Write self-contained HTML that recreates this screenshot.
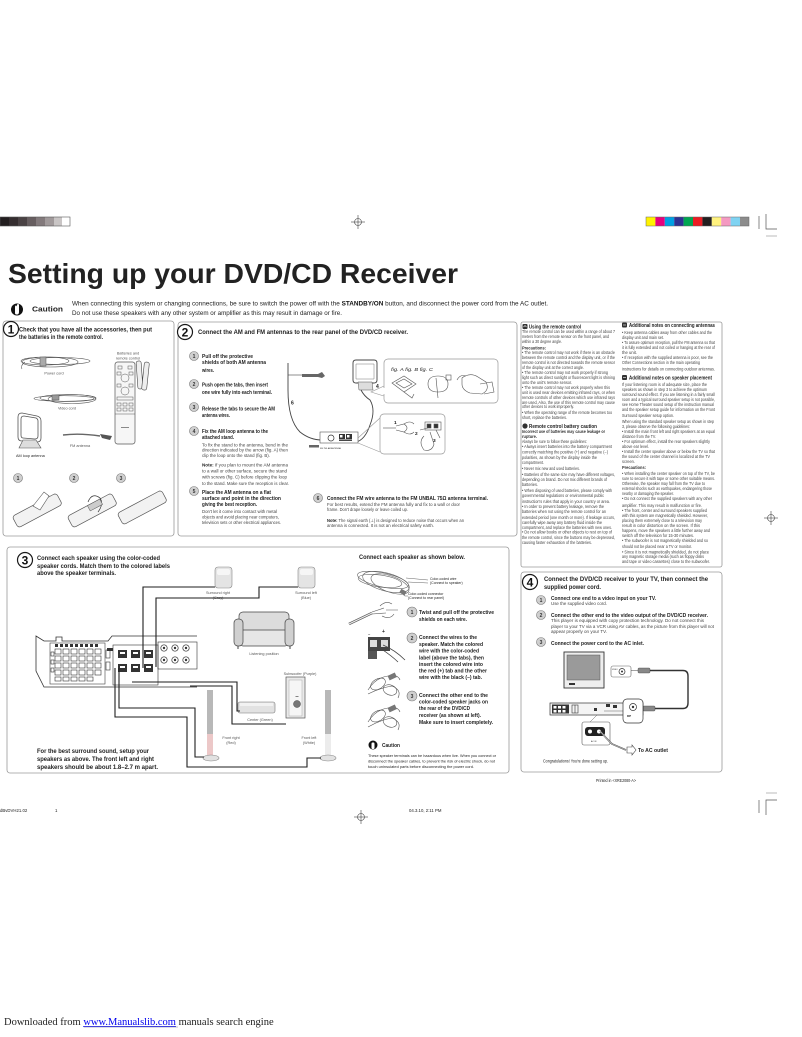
<!DOCTYPE html>
<html><head><meta charset="utf-8"><title>Setting up your DVD/CD Receiver</title>
<style>
html,body{margin:0;padding:0;background:#fff;}
svg{display:block}
text{font-family:"Liberation Sans",sans-serif;fill:#222}
.s{font-size:4.1px;fill:#444}
.sb{font-size:4.2px;font-weight:bold;fill:#333}
.h{font-size:5px;font-weight:bold;fill:#222}
.st{font-size:5.3px;font-weight:bold;fill:#222}
.lbl{font-size:3.8px;fill:#555;text-anchor:middle}
.num{font-size:12px;font-weight:bold;text-anchor:middle;fill:#111}
.sn{font-size:5px;font-weight:bold;text-anchor:middle;fill:#333}
.box{fill:none;stroke:#9a9a9a;stroke-width:0.8}
.w{fill:none;stroke:#1e1e1e;stroke-width:1.1}
.ln{fill:none;stroke:#555;stroke-width:0.6}
.ln2{fill:none;stroke:#444;stroke-width:0.9}
.big{fill:#fff;stroke:#1a1a1a;stroke-width:1.2}
.sc{fill:#cfcfcf;stroke:#777;stroke-width:0.6}
</style></head>
<body>
<svg width="802" height="1037" viewBox="0 0 802 1037" xmlns="http://www.w3.org/2000/svg">
<rect width="802" height="1037" fill="#fff"/>

<!-- registration bars -->
<g stroke="none">
<rect x="0" y="217" width="9" height="9" fill="#231f20"/>
<rect x="9" y="217" width="9" height="9" fill="#352e30"/>
<rect x="18" y="217" width="9" height="9" fill="#4a4244"/>
<rect x="27" y="217" width="9" height="9" fill="#675e60"/>
<rect x="36" y="217" width="9" height="9" fill="#837a7c"/>
<rect x="45" y="217" width="9" height="9" fill="#a19a9b"/>
<rect x="54" y="217" width="8" height="9" fill="#c9c5c5"/>
<rect x="62" y="217" width="8" height="9" fill="#fff"/>
</g>
<rect x="0" y="217" width="70" height="9" fill="none" stroke="#555" stroke-width="0.6"/>
<g stroke="none">
<rect x="646" y="217" width="9.4" height="9" fill="#fff200"/>
<rect x="655.4" y="217" width="9.4" height="9" fill="#e6007e"/>
<rect x="664.8" y="217" width="9.4" height="9" fill="#00a0e3"/>
<rect x="674.2" y="217" width="9.4" height="9" fill="#2e3192"/>
<rect x="683.6" y="217" width="9.4" height="9" fill="#00a651"/>
<rect x="693" y="217" width="9.4" height="9" fill="#ed1c24"/>
<rect x="702.4" y="217" width="9.4" height="9" fill="#231f20"/>
<rect x="711.8" y="217" width="9.4" height="9" fill="#fff27f"/>
<rect x="721.2" y="217" width="9.4" height="9" fill="#f49ac1"/>
<rect x="730.6" y="217" width="9.4" height="9" fill="#7fd3f2"/>
<rect x="740" y="217" width="9" height="9" fill="#8c8c8c"/>
</g>
<rect x="646" y="217" width="103" height="9" fill="none" stroke="#666" stroke-width="0.5"/>
<g stroke="#555" stroke-width="0.7" fill="none">
<line x1="759" y1="216" x2="759" y2="229"/>
<polyline points="766,214 766,229 777,229"/>
</g>
<line x1="766" y1="236" x2="777" y2="236" stroke="#aaa" stroke-width="0.8"/>
<g stroke="#444" stroke-width="0.6" fill="none">
<circle cx="358" cy="222" r="3.5"/><line x1="351" y1="222" x2="365" y2="222"/><line x1="358" y1="215" x2="358" y2="229"/>
</g>

<!-- title -->
<text x="8" y="283" font-size="28" font-weight="bold" textLength="450" lengthAdjust="spacingAndGlyphs" fill="#1a1a1a">Setting up your DVD/CD Receiver</text>

<!-- caution line -->
<circle cx="17" cy="309.5" r="6" fill="#111"/>
<path d="M15,313 L15,307 Q15,305.5 16,305.5 Q17,305.5 17,307 L17,305 Q17,304 18,304 Q19,304 19,305 L19,312 Q19,314.5 17,314.5 L16.5,314.5 Q15,314.5 15,313 Z" fill="#fff"/>
<text x="32" y="311.5" font-size="7.5" font-weight="bold" textLength="31" lengthAdjust="spacingAndGlyphs">Caution</text>
<text x="72" y="305.5" font-size="6.8" textLength="476" lengthAdjust="spacingAndGlyphs" fill="#333">When connecting this system or changing connections, be sure to switch the power off with the <tspan font-weight="bold" fill="#111">STANDBY/ON</tspan> button, and disconnect the power cord from the AC outlet.</text>
<text x="72" y="315" font-size="6.8" textLength="270" lengthAdjust="spacingAndGlyphs" fill="#333">Do not use these speakers with any other system or amplifier as this may result in damage or fire.</text>

<!-- ============ SECTION 1 ============ -->
<rect x="3" y="321" width="171" height="215" rx="3" class="box"/>
<circle cx="11" cy="329" r="7.5" class="big"/>
<text x="11" y="333.5" class="num">1</text>
<text x="19" y="331.5" font-size="6" font-weight="bold" textLength="133" lengthAdjust="spacingAndGlyphs">Check that you have all the accessories, then put</text>
<text x="19" y="339" font-size="6" font-weight="bold" textLength="84" lengthAdjust="spacingAndGlyphs">the batteries in the remote control.</text>

<!-- power cord -->
<g class="ln">
<ellipse cx="45" cy="361" rx="24" ry="4"/>
<ellipse cx="50" cy="362" rx="28" ry="5"/>
<ellipse cx="60" cy="361" rx="30" ry="3.5"/>
<path d="M25,362 Q20,366 22,369"/>
</g>
<rect x="40" y="357" width="6" height="9" fill="#aaa" stroke="#555" stroke-width="0.5"/>
<text x="54" y="374.5" class="lbl">Power cord</text>
<!-- video cord -->
<g class="ln">
<ellipse cx="68" cy="398" rx="28" ry="3.5"/>
<ellipse cx="72" cy="399" rx="24" ry="4.5"/>
<ellipse cx="64" cy="398.5" rx="30" ry="2.8"/>
</g>
<rect x="52" y="395" width="7" height="5" fill="#999" stroke="#555" stroke-width="0.5"/>
<text x="67" y="409.5" class="lbl">Video cord</text>
<!-- AM loop -->
<g fill="none" stroke="#555" stroke-width="0.8">
<path d="M18,417 Q18,413 22,413 L37,416 Q41,417 41,421 L41,438 Q41,442 37,442 L22,441 Q18,441 18,437 Z"/>
<path d="M21,419 Q21,416 24,416 L36,418 Q38,419 38,421 L38,436 Q38,439 35,439 L23,438 Q21,438 21,435 Z"/>
</g>
<polygon points="23,440 36,440 41,448 19,448" fill="#ddd" stroke="#555" stroke-width="0.6"/>
<text x="16" y="457" font-size="3.8" fill="#555">AM loop antenna</text>
<!-- FM antenna -->
<path d="M63,435 Q80,433 100,436" stroke="#666" stroke-width="1.4" fill="none"/>
<path d="M100,434 L112,436 L110,440 L102,438 Z" fill="#555"/>
<text x="80" y="447" class="lbl">FM antenna</text>
<!-- remote -->
<text x="128" y="354.5" class="lbl" fill="#333">Batteries and</text>
<text x="128" y="359.5" class="lbl" fill="#333">remote control</text>
<rect x="115" y="362" width="20" height="82" rx="2.5" fill="#f6f6f6" stroke="#555" stroke-width="0.7"/>
<g fill="none" stroke="#555" stroke-width="0.5">
<rect x="118" y="366" width="4" height="3"/><rect x="128" y="366" width="4" height="3"/>
<rect x="117" y="372" width="4" height="3"/><rect x="129" y="372" width="4" height="3"/>
<circle cx="125" cy="378" r="4"/>
<rect x="117" y="384" width="4" height="3"/><rect x="129" y="384" width="4" height="3"/>
<circle cx="125" cy="391" r="4"/>
<rect x="117" y="397" width="16" height="3"/>
<rect x="117" y="403" width="4" height="3"/><rect x="123" y="403" width="4" height="3"/><rect x="129" y="403" width="4" height="3"/>
<rect x="117" y="408" width="4" height="3"/><rect x="123" y="408" width="4" height="3"/><rect x="129" y="408" width="4" height="3"/>
<line x1="115" y1="414" x2="135" y2="414"/>
</g>
<rect x="121" y="427" width="8" height="1" fill="#888"/>
<rect x="137" y="361" width="5" height="28" rx="2" fill="#eee" stroke="#444" stroke-width="0.6" transform="rotate(-4 139 375)"/>
<rect x="143" y="362" width="5" height="28" rx="2" fill="#eee" stroke="#444" stroke-width="0.6" transform="rotate(6 145 376)"/>
<!-- steps 1-3 -->
<circle cx="18" cy="478" r="4.5" class="sc"/><text x="18" y="480" class="sn">1</text>
<circle cx="74" cy="478" r="4.5" class="sc"/><text x="74" y="480" class="sn">2</text>
<circle cx="121" cy="478" r="4.5" class="sc"/><text x="121" y="480" class="sn">3</text>
<g fill="#f2f2f2" stroke="#555" stroke-width="0.7">
<rect x="12" y="504" width="50" height="13" rx="3" transform="rotate(-28 37 510)"/>
<rect x="67" y="504" width="50" height="13" rx="3" transform="rotate(-28 92 510)"/>
<rect x="117" y="501" width="50" height="13" rx="3" transform="rotate(-28 142 507)"/>
</g>
<path d="M33,506 L44,492 L49,496 L40,510 Z" fill="#fff" stroke="#555" stroke-width="0.6"/>
<path d="M88,502 Q92,492 100,498 Q104,504 98,512" fill="none" stroke="#333" stroke-width="0.7"/>
<rect x="88" y="502" width="14" height="6" fill="#ccc" stroke="#555" stroke-width="0.5" transform="rotate(-28 95 505)"/>

<!-- ============ SECTION 2 ============ -->
<rect x="178" y="322" width="339" height="214" rx="3" class="box"/>
<circle cx="185" cy="332" r="7.5" class="big"/>
<text x="185" y="336.5" class="num">2</text>
<text x="198" y="334" font-size="6" font-weight="bold" textLength="210" lengthAdjust="spacingAndGlyphs">Connect the AM and FM antennas to the rear panel of the DVD/CD receiver.</text>

<circle cx="194" cy="356" r="4.5" class="sc"/><text x="194" y="358" class="sn">1</text>
<circle cx="194" cy="384" r="4.5" class="sc"/><text x="194" y="386" class="sn">2</text>
<circle cx="194" cy="407" r="4.5" class="sc"/><text x="194" y="409" class="sn">3</text>
<circle cx="194" cy="431" r="4.5" class="sc"/><text x="194" y="433" class="sn">4</text>
<circle cx="194" cy="491" r="4.5" class="sc"/><text x="194" y="493" class="sn">5</text>

<text x="202" y="358" class="st" textLength="51" lengthAdjust="spacingAndGlyphs">Pull off the protective</text>
<text x="202" y="364" class="st" textLength="64" lengthAdjust="spacingAndGlyphs">shields of both AM antenna</text>
<text x="202" y="372" class="st" textLength="12" lengthAdjust="spacingAndGlyphs">wires.</text>
<text x="202" y="386.5" class="st" textLength="66" lengthAdjust="spacingAndGlyphs">Push open the tabs, then insert</text>
<text x="202" y="394" class="st" textLength="70" lengthAdjust="spacingAndGlyphs">one wire fully into each terminal.</text>
<text x="202" y="410.5" class="st" textLength="73" lengthAdjust="spacingAndGlyphs">Release the tabs to secure the AM</text>
<text x="202" y="417" class="st" textLength="28" lengthAdjust="spacingAndGlyphs">antenna wires.</text>
<text x="202" y="433" class="st" textLength="66" lengthAdjust="spacingAndGlyphs">Fix the AM loop antenna to the</text>
<text x="202" y="439" class="st" textLength="32" lengthAdjust="spacingAndGlyphs">attached stand.</text>
<text x="202" y="446.5" class="s" textLength="86" lengthAdjust="spacingAndGlyphs">To fix the stand to the antenna, bend in the</text>
<text x="202" y="451.5" class="s" textLength="86" lengthAdjust="spacingAndGlyphs">direction indicated by the arrow (fig. A) then</text>
<text x="202" y="457" class="s" textLength="68" lengthAdjust="spacingAndGlyphs">clip the loop onto the stand (fig. B).</text>
<text x="202" y="466.5" class="s" textLength="86" lengthAdjust="spacingAndGlyphs"><tspan font-weight="bold" fill="#222">Note:</tspan> If you plan to mount the AM antenna</text>
<text x="202" y="472.5" class="s" textLength="85" lengthAdjust="spacingAndGlyphs">to a wall or other surface, secure the stand</text>
<text x="202" y="478.5" class="s" textLength="85" lengthAdjust="spacingAndGlyphs">with screws (fig. C) before clipping the loop</text>
<text x="202" y="485" class="s" textLength="87" lengthAdjust="spacingAndGlyphs">to the stand. Make sure the reception is clear.</text>
<text x="202" y="494" class="st" textLength="69" lengthAdjust="spacingAndGlyphs">Place the AM antenna on a flat</text>
<text x="202" y="500" class="st" textLength="79" lengthAdjust="spacingAndGlyphs">surface and point in the direction</text>
<text x="202" y="506" class="st" textLength="55" lengthAdjust="spacingAndGlyphs">giving the best reception.</text>
<text x="202" y="513" class="s" textLength="75" lengthAdjust="spacingAndGlyphs">Don't let it come into contact with metal</text>
<text x="202" y="518.5" class="s" textLength="77" lengthAdjust="spacingAndGlyphs">objects and avoid placing near computers,</text>
<text x="202" y="524" class="s" textLength="79" lengthAdjust="spacingAndGlyphs">television sets or other electrical appliances.</text>

<circle cx="318" cy="498" r="4.5" class="sc"/><text x="318" y="500" class="sn">6</text>
<text x="327" y="500" class="st" textLength="161" lengthAdjust="spacingAndGlyphs">Connect the FM wire antenna to the FM UNBAL 75Ω antenna terminal.</text>
<text x="327" y="506" class="s" textLength="133" lengthAdjust="spacingAndGlyphs">For best results, extend the FM antenna fully and fix to a wall or door</text>
<text x="327" y="511" class="s" textLength="81" lengthAdjust="spacingAndGlyphs">frame. Don't drape loosely or leave coiled up.</text>
<text x="327" y="522" class="s" textLength="137" lengthAdjust="spacingAndGlyphs"><tspan font-weight="bold" fill="#222">Note:</tspan> The signal earth (⊥) is designed to reduce noise that occurs when an</text>
<text x="327" y="527" class="s" textLength="107" lengthAdjust="spacingAndGlyphs">antenna is connected. It is not an electrical safety earth.</text>

<!-- section 2 diagram -->
<path d="M288,363 L288,390 Q288,420 300,432 Q310,440 322,440" class="ln2"/>
<line x1="288" y1="375" x2="302" y2="375" stroke="#444" stroke-width="0.6"/>
<path d="M302,374 L318,374 L322,372 L325,376 L322,378 L318,377 L302,377 Z" fill="#666"/>
<text x="291" y="404.5" font-size="5" font-weight="bold" fill="#333">6</text>
<path d="M353,363 Q353,360 356,360 L374,360 Q377,360 377,363 L377,380 Q377,383 374,383 L356,383 Q353,383 353,380 Z" fill="none" stroke="#444" stroke-width="0.9"/>
<path d="M356,364 L374,364 L374,379 L356,379 Z" fill="none" stroke="#777" stroke-width="0.5"/>
<polygon points="358,382 372,382 373,390 359,390" fill="#ddd" stroke="#555" stroke-width="0.5"/>
<path d="M361,390 Q364,396 370,400 Q376,410 370,425 Q365,440 356,442" class="ln2"/>
<text x="376" y="388" font-size="5" font-weight="bold" fill="#333">4</text>
<path d="M384,386 L371,392 L384,396" fill="none" stroke="#999" stroke-width="0.6"/>
<rect x="384" y="359" width="114" height="44" rx="4" fill="#fff" stroke="#999" stroke-width="0.7"/>
<line x1="384" y1="388" x2="384" y2="394" stroke="#fff" stroke-width="1"/>
<text x="391" y="371" font-size="4.6" font-style="italic" fill="#444" textLength="42" lengthAdjust="spacingAndGlyphs">fig. A fig. B fig. C</text>
<g fill="none" stroke="#555" stroke-width="0.6">
<path d="M392,383 L404,376 L416,384 L404,392 Z"/><path d="M396,383 L404,379 L412,384 L404,388 Z"/>
<path d="M404,392 L412,398 L414,394"/>
<path d="M428,384 Q428,376 438,376 Q448,376 448,384 Q448,392 438,392 Q428,392 428,384 Z"/>
<line x1="436" y1="378" x2="438" y2="398"/><rect x="446" y="375" width="5" height="5"/>
<path d="M462,378 Q470,372 478,377 L486,382 Q490,390 482,394 L470,393 Q462,390 462,384 Z"/>
<path d="M480,384 L492,382 L494,392 L484,394"/><path d="M457,380 Q460,374 466,376"/>
</g>
<!-- terminal -->
<rect x="320" y="432" width="38" height="11" fill="#fff" stroke="#555" stroke-width="0.6"/>
<circle cx="331" cy="438" r="3" fill="#fff" stroke="#333" stroke-width="0.7"/>
<rect x="339" y="434" width="6" height="5" fill="#333"/><rect x="346" y="434" width="6" height="5" fill="#333"/>
<rect x="340" y="435" width="2.5" height="2.5" fill="#fff"/><rect x="347" y="435" width="2.5" height="2.5" fill="#fff"/>
<rect x="339" y="439.5" width="13" height="1.4" fill="#333"/>
<rect x="309" y="445" width="10" height="2.5" fill="#666"/>
<text x="320" y="449" font-size="2" fill="#666">FM 75Ω  AM ANTENNA</text>
<path d="M358,438 L380,418 M358,443 L380,452" fill="none" stroke="#999" stroke-width="0.6"/>
<rect x="380" y="414" width="65" height="40" rx="4" fill="#fff" stroke="#999" stroke-width="0.7"/>
<text x="394" y="424" font-size="4.8" font-weight="bold" fill="#333">1</text>
<text x="415" y="435" font-size="4.8" font-weight="bold" fill="#333">2</text>
<text x="433" y="442" font-size="4.8" font-weight="bold" fill="#333">3</text>
<g fill="none" stroke="#555" stroke-width="0.6">
<line x1="383" y1="428" x2="396" y2="428"/><path d="M396,426 L404,424 Q410,428 404,432 L396,430"/>
<path d="M404,424 Q410,420 414,424 M404,432 Q410,436 414,432"/>
<rect x="425" y="422" width="16" height="8"/>
<rect x="427" y="424" width="4" height="4" fill="#333"/><rect x="434" y="424" width="4" height="4" fill="#333"/>
<path d="M420,430 L428,428 M424,436 Q418,442 424,450 Q432,452 434,444 L430,432"/>
<path d="M436,430 L440,438"/>
</g>

<!-- ============ RIGHT TEXT COLUMN ============ -->
<rect x="521" y="322" width="201" height="245" rx="2" class="box"/>
<rect x="522.5" y="324" width="5" height="5" rx="1" fill="#333"/><path d="M523.5,327 L525,325.5 L526.5,327" stroke="#fff" stroke-width="0.6" fill="none"/>
<text x="529" y="328.5" class="h" textLength="52" lengthAdjust="spacingAndGlyphs">Using the remote control</text>
<text x="522" y="333" class="s" textLength="93" lengthAdjust="spacingAndGlyphs">The remote control can be used within a range of about 7</text>
<text x="522" y="338" class="s" textLength="87" lengthAdjust="spacingAndGlyphs">meters from the remote sensor on the front panel, and</text>
<text x="522" y="343" class="s" textLength="40" lengthAdjust="spacingAndGlyphs">within a 30 degree angle.</text>
<text x="522" y="349.5" class="sb" textLength="24" lengthAdjust="spacingAndGlyphs">Precautions:</text>
<text x="522" y="354" class="s" textLength="93" lengthAdjust="spacingAndGlyphs">• The remote control may not work if there is an obstacle</text>
<text x="522" y="359" class="s" textLength="93" lengthAdjust="spacingAndGlyphs">between the remote control and the display unit, or if the</text>
<text x="522" y="364" class="s" textLength="93" lengthAdjust="spacingAndGlyphs">remote control is not directed towards the remote sensor</text>
<text x="522" y="369" class="s" textLength="62" lengthAdjust="spacingAndGlyphs">of the display unit at the correct angle.</text>
<text x="522" y="374" class="s" textLength="86" lengthAdjust="spacingAndGlyphs">• The remote control may not work properly if strong</text>
<text x="522" y="379" class="s" textLength="93" lengthAdjust="spacingAndGlyphs">light such as direct sunlight or fluorescent light is shining</text>
<text x="522" y="384" class="s" textLength="50" lengthAdjust="spacingAndGlyphs">onto the unit's remote sensor.</text>
<text x="522" y="389" class="s" textLength="88" lengthAdjust="spacingAndGlyphs">• The remote control may not work properly when this</text>
<text x="522" y="394" class="s" textLength="93" lengthAdjust="spacingAndGlyphs">unit is used near devices emitting infrared rays, or when</text>
<text x="522" y="399" class="s" textLength="93" lengthAdjust="spacingAndGlyphs">remote controls of other devices which use infrared rays</text>
<text x="522" y="404" class="s" textLength="93" lengthAdjust="spacingAndGlyphs">are used. Also, the use of this remote control may cause</text>
<text x="522" y="408" class="s" textLength="52" lengthAdjust="spacingAndGlyphs">other devices to work improperly.</text>
<text x="522" y="414" class="s" textLength="90" lengthAdjust="spacingAndGlyphs">• When the operating range of the remote becomes too</text>
<text x="522" y="419" class="s" textLength="45" lengthAdjust="spacingAndGlyphs">short, replace the batteries.</text>
<circle cx="525" cy="426" r="2.6" fill="#333"/><text x="525" y="427.5" font-size="3.6" font-weight="bold" fill="#fff" text-anchor="middle">!</text>
<text x="529" y="428" class="h" textLength="68" lengthAdjust="spacingAndGlyphs">Remote control battery caution</text>
<text x="522" y="433" class="sb" textLength="83" lengthAdjust="spacingAndGlyphs">Incorrect use of batteries may cause leakage or</text>
<text x="522" y="438" class="sb" textLength="15" lengthAdjust="spacingAndGlyphs">rupture.</text>
<text x="522" y="443" class="s" textLength="65" lengthAdjust="spacingAndGlyphs">Always be sure to follow these guidelines:</text>
<text x="522" y="448" class="s" textLength="90" lengthAdjust="spacingAndGlyphs">• Always insert batteries into the battery compartment</text>
<text x="522" y="453.5" class="s" textLength="86" lengthAdjust="spacingAndGlyphs">correctly matching the positive (+) and negative (−)</text>
<text x="522" y="459" class="s" textLength="75" lengthAdjust="spacingAndGlyphs">polarities, as shown by the display inside the</text>
<text x="522" y="464" class="s" textLength="22" lengthAdjust="spacingAndGlyphs">compartment.</text>
<text x="522" y="470" class="s" textLength="58" lengthAdjust="spacingAndGlyphs">• Never mix new and used batteries.</text>
<text x="522" y="476" class="s" textLength="93" lengthAdjust="spacingAndGlyphs">• Batteries of the same size may have different voltages,</text>
<text x="522" y="481" class="s" textLength="85" lengthAdjust="spacingAndGlyphs">depending on brand. Do not mix different brands of</text>
<text x="522" y="486" class="s" textLength="16" lengthAdjust="spacingAndGlyphs">batteries.</text>
<text x="522" y="492" class="s" textLength="90" lengthAdjust="spacingAndGlyphs">• When disposing of used batteries, please comply with</text>
<text x="522" y="497" class="s" textLength="82" lengthAdjust="spacingAndGlyphs">governmental regulations or environmental public</text>
<text x="522" y="503" class="s" textLength="88" lengthAdjust="spacingAndGlyphs">instruction's rules that apply in your country or area.</text>
<text x="522" y="508" class="s" textLength="82" lengthAdjust="spacingAndGlyphs">• In order to prevent battery leakage, remove the</text>
<text x="522" y="513" class="s" textLength="84" lengthAdjust="spacingAndGlyphs">batteries when not using the remote control for an</text>
<text x="522" y="519" class="s" textLength="93" lengthAdjust="spacingAndGlyphs">extended period (one month or more). If leakage occurs,</text>
<text x="522" y="524" class="s" textLength="80" lengthAdjust="spacingAndGlyphs">carefully wipe away any battery fluid inside the</text>
<text x="522" y="529" class="s" textLength="90" lengthAdjust="spacingAndGlyphs">compartment, and replace the batteries with new ones.</text>
<text x="522" y="533.5" class="s" textLength="90" lengthAdjust="spacingAndGlyphs">• Do not allow books or other objects to rest on top of</text>
<text x="522" y="539" class="s" textLength="93" lengthAdjust="spacingAndGlyphs">the remote control, since the buttons may be depressed,</text>
<text x="522" y="544" class="s" textLength="70" lengthAdjust="spacingAndGlyphs">causing faster exhaustion of the batteries.</text>

<rect x="622" y="322.5" width="5" height="5" rx="1" fill="#333"/><path d="M623,325 L626,325" stroke="#fff" stroke-width="0.6"/>
<text x="629" y="327" class="h" textLength="86" lengthAdjust="spacingAndGlyphs">Additional notes on connecting antennas</text>
<text x="622" y="334" class="s" textLength="90" lengthAdjust="spacingAndGlyphs">• Keep antenna cables away from other cables and the</text>
<text x="622" y="339" class="s" textLength="42" lengthAdjust="spacingAndGlyphs">display unit and main set.</text>
<text x="622" y="344" class="s" textLength="93" lengthAdjust="spacingAndGlyphs">• To assure optimum reception, pull the FM antenna so that</text>
<text x="622" y="349" class="s" textLength="93" lengthAdjust="spacingAndGlyphs">it is fully extended and not coiled or hanging at the rear of</text>
<text x="622" y="354" class="s" textLength="15" lengthAdjust="spacingAndGlyphs">the unit.</text>
<text x="622" y="359" class="s" textLength="91" lengthAdjust="spacingAndGlyphs">• If reception with the supplied antenna is poor, see the</text>
<text x="622" y="364" class="s" textLength="78" lengthAdjust="spacingAndGlyphs">Other Connections section in the main operating</text>
<text x="622" y="370.5" class="s" textLength="93" lengthAdjust="spacingAndGlyphs">instructions for details on connecting outdoor antennas.</text>
<rect x="622" y="375" width="5" height="5" rx="1" fill="#333"/><path d="M623,377.5 L626,377.5" stroke="#fff" stroke-width="0.6"/>
<text x="629" y="379.5" class="h" textLength="83" lengthAdjust="spacingAndGlyphs">Additional notes on speaker placement</text>
<text x="622" y="386" class="s" textLength="85" lengthAdjust="spacingAndGlyphs">If your listening room is of adequate size, place the</text>
<text x="622" y="391" class="s" textLength="85" lengthAdjust="spacingAndGlyphs">speakers as shown in step 3 to achieve the optimum</text>
<text x="622" y="396" class="s" textLength="93" lengthAdjust="spacingAndGlyphs">surround sound effect. If you are listening in a fairly small</text>
<text x="622" y="401" class="s" textLength="93" lengthAdjust="spacingAndGlyphs">room and a typical surround speaker setup is not possible,</text>
<text x="622" y="406" class="s" textLength="92" lengthAdjust="spacingAndGlyphs">see Home Theater sound setup of the instruction manual</text>
<text x="622" y="411" class="s" textLength="93" lengthAdjust="spacingAndGlyphs">and the speaker setup guide for information on the Front</text>
<text x="622" y="417" class="s" textLength="52" lengthAdjust="spacingAndGlyphs">Surround speaker setup option.</text>
<text x="622" y="423" class="s" textLength="92" lengthAdjust="spacingAndGlyphs">When using the standard speaker setup as shown in step</text>
<text x="622" y="428" class="s" textLength="68" lengthAdjust="spacingAndGlyphs">3, please observe the following guidelines:</text>
<text x="622" y="433" class="s" textLength="93" lengthAdjust="spacingAndGlyphs">• Install the main front left and right speakers at an equal</text>
<text x="622" y="438" class="s" textLength="34" lengthAdjust="spacingAndGlyphs">distance from the TV.</text>
<text x="622" y="443" class="s" textLength="88" lengthAdjust="spacingAndGlyphs">• For optimum effect, install the rear speakers slightly</text>
<text x="622" y="448" class="s" textLength="27" lengthAdjust="spacingAndGlyphs">above ear level.</text>
<text x="622" y="453" class="s" textLength="93" lengthAdjust="spacingAndGlyphs">• Install the center speaker above or below the TV so that</text>
<text x="622" y="458" class="s" textLength="88" lengthAdjust="spacingAndGlyphs">the sound of the center channel is localized at the TV</text>
<text x="622" y="463" class="s" textLength="13" lengthAdjust="spacingAndGlyphs">screen.</text>
<text x="622" y="469" class="sb" textLength="24" lengthAdjust="spacingAndGlyphs">Precautions:</text>
<text x="622" y="475" class="s" textLength="93" lengthAdjust="spacingAndGlyphs">• When installing the center speaker on top of the TV, be</text>
<text x="622" y="480" class="s" textLength="93" lengthAdjust="spacingAndGlyphs">sure to secure it with tape or some other suitable means.</text>
<text x="622" y="485" class="s" textLength="83" lengthAdjust="spacingAndGlyphs">Otherwise, the speaker may fall from the TV due to</text>
<text x="622" y="490" class="s" textLength="90" lengthAdjust="spacingAndGlyphs">external shocks such as earthquakes, endangering those</text>
<text x="622" y="495" class="s" textLength="52" lengthAdjust="spacingAndGlyphs">nearby or damaging the speaker.</text>
<text x="622" y="500" class="s" textLength="90" lengthAdjust="spacingAndGlyphs">• Do not connect the supplied speakers with any other</text>
<text x="622" y="507" class="s" textLength="80" lengthAdjust="spacingAndGlyphs">amplifier. This may result in malfunction or fire.</text>
<text x="622" y="512" class="s" textLength="85" lengthAdjust="spacingAndGlyphs">• The front, center and surround speakers supplied</text>
<text x="622" y="517" class="s" textLength="86" lengthAdjust="spacingAndGlyphs">with this system are magnetically shielded. However,</text>
<text x="622" y="522" class="s" textLength="80" lengthAdjust="spacingAndGlyphs">placing them extremely close to a television may</text>
<text x="622" y="527" class="s" textLength="78" lengthAdjust="spacingAndGlyphs">result in color distortion on the screen. If this</text>
<text x="622" y="532" class="s" textLength="88" lengthAdjust="spacingAndGlyphs">happens, move the speakers a little further away and</text>
<text x="622" y="537" class="s" textLength="72" lengthAdjust="spacingAndGlyphs">switch off the television for 15-30 minutes.</text>
<text x="622" y="542" class="s" textLength="86" lengthAdjust="spacingAndGlyphs">• The subwoofer is not magnetically shielded and so</text>
<text x="622" y="548" class="s" textLength="70" lengthAdjust="spacingAndGlyphs">should not be placed near a TV or monitor.</text>
<text x="622" y="553.5" class="s" textLength="87" lengthAdjust="spacingAndGlyphs">• Since it is not magnetically shielded, do not place</text>
<text x="622" y="558" class="s" textLength="82" lengthAdjust="spacingAndGlyphs">any magnetic storage media (such as floppy disks</text>
<text x="622" y="563" class="s" textLength="88" lengthAdjust="spacingAndGlyphs">and tape or video cassettes) close to the subwoofer.</text>

<g stroke="#444" stroke-width="0.6" fill="none">
<circle cx="771" cy="518" r="3.5"/><line x1="764" y1="518" x2="778" y2="518"/><line x1="771" y1="511" x2="771" y2="525"/>
</g>

<!-- ============ SECTION 3 ============ -->
<rect x="7" y="547" width="502" height="226" rx="3" class="box"/>
<circle cx="25" cy="560" r="7.5" class="big"/>
<text x="25" y="564.5" class="num">3</text>
<text x="37" y="560" font-size="6.2" font-weight="bold" textLength="123" lengthAdjust="spacingAndGlyphs">Connect each speaker using the color-coded</text>
<text x="37" y="568" font-size="6.2" font-weight="bold" textLength="133" lengthAdjust="spacingAndGlyphs">speaker cords. Match them to the colored labels</text>
<text x="37" y="575" font-size="6.2" font-weight="bold" textLength="79" lengthAdjust="spacingAndGlyphs">above the speaker terminals.</text>
<text x="37" y="753" font-size="6.4" font-weight="bold" textLength="112" lengthAdjust="spacingAndGlyphs">For the best surround sound, setup your</text>
<text x="37" y="761" font-size="6.4" font-weight="bold" textLength="117" lengthAdjust="spacingAndGlyphs">speakers as above. The front left and right</text>
<text x="37" y="769" font-size="6.4" font-weight="bold" textLength="121" lengthAdjust="spacingAndGlyphs">speakers should be about 1.8–2.7 m apart.</text>

<!-- receiver rear -->
<path d="M197,636 L112,636 L108,641 L62,641 L62,637 L56,637 L56,641 L44,641 L36,636 L36,671 L44,687 L197,687" fill="#fff" stroke="#333" stroke-width="0.8"/>
<rect x="50" y="643" width="55" height="41" fill="none" stroke="#444" stroke-width="0.6"/>
<g fill="#333">
<rect x="55" y="644" width="3" height="3"/><rect x="60" y="644" width="3" height="3"/><rect x="65" y="644" width="3" height="3"/><rect x="70" y="644" width="3" height="3"/><rect x="75" y="644" width="3" height="3"/><rect x="80" y="644" width="3" height="3"/><rect x="85" y="644" width="3" height="3"/><rect x="90" y="644" width="3" height="3"/><rect x="95" y="644" width="3" height="3"/>
</g>
<g fill="none" stroke="#333" stroke-width="0.6">
<rect x="55" y="649" width="6" height="5"/><rect x="63" y="649" width="6" height="5"/><rect x="71" y="649" width="6" height="5"/><rect x="79" y="649" width="6" height="5"/><rect x="87" y="649" width="6" height="5"/><rect x="95" y="649" width="6" height="5"/>
<rect x="55" y="656" width="6" height="5"/><rect x="63" y="656" width="6" height="5"/><rect x="71" y="656" width="6" height="5"/><rect x="79" y="656" width="6" height="5"/><rect x="87" y="656" width="6" height="5"/><rect x="95" y="656" width="6" height="5"/>
<rect x="55" y="663" width="6" height="5"/><rect x="63" y="663" width="6" height="5"/><rect x="71" y="663" width="6" height="5"/><rect x="79" y="663" width="6" height="5"/><rect x="87" y="663" width="6" height="5"/><rect x="95" y="663" width="6" height="5"/>
<rect x="55" y="670" width="6" height="5"/><rect x="63" y="670" width="6" height="5"/><rect x="71" y="670" width="6" height="5"/><rect x="79" y="670" width="6" height="5"/><rect x="87" y="670" width="6" height="5"/><rect x="95" y="670" width="6" height="5"/>
<rect x="55" y="677" width="6" height="4"/><rect x="63" y="677" width="6" height="4"/><rect x="71" y="677" width="6" height="4"/><rect x="79" y="677" width="6" height="4"/><rect x="87" y="677" width="6" height="4"/>
<rect x="51" y="652" width="3" height="4"/><rect x="51" y="660" width="3" height="4"/><rect x="51" y="668" width="3" height="4"/>
<rect x="106" y="650" width="4" height="8"/><rect x="106" y="662" width="4" height="8"/>
<rect x="113" y="645" width="45" height="40"/>
<rect x="158" y="642" width="39" height="27"/>
</g>
<rect x="107" y="648" width="6" height="3" fill="#333"/>
<g fill="#333">
<rect x="118" y="650" width="9" height="8"/><rect x="131" y="650" width="9" height="8"/><rect x="144" y="650" width="9" height="8"/>
<rect x="118" y="664" width="9" height="8"/><rect x="131" y="664" width="9" height="8"/><rect x="144" y="664" width="9" height="8"/>
</g>
<g fill="#fff">
<rect x="120" y="652" width="5" height="2"/><rect x="133" y="652" width="5" height="2"/><rect x="146" y="652" width="5" height="2"/>
<rect x="120" y="666" width="5" height="2"/><rect x="133" y="666" width="5" height="2"/><rect x="146" y="666" width="5" height="2"/>
</g>
<g fill="#fff" stroke="#333" stroke-width="0.7">
<circle cx="164" cy="648" r="3.2"/><circle cx="175" cy="648" r="3.2"/><circle cx="186" cy="648" r="3.2"/>
<circle cx="164" cy="660" r="3.2"/><circle cx="175" cy="660" r="3.2"/><circle cx="186" cy="660" r="3.2"/>
</g>
<g fill="#333"><circle cx="164" cy="648" r="1.2"/><circle cx="175" cy="648" r="1.2"/><circle cx="186" cy="648" r="1.2"/><circle cx="164" cy="660" r="1.2"/><circle cx="175" cy="660" r="1.2"/><circle cx="186" cy="660" r="1.2"/></g>

<!-- speakers -->
<rect x="215" y="567" width="17" height="21" rx="3" fill="#e4e4e4" stroke="#888" stroke-width="0.6"/>
<rect x="217" y="569" width="13" height="6" rx="2" fill="#f6f6f6"/>
<text x="218" y="594" class="lbl">Surround right</text><text x="218" y="599" class="lbl">(Grey)</text>
<rect x="298" y="567" width="17" height="21" rx="3" fill="#e4e4e4" stroke="#888" stroke-width="0.6"/>
<rect x="300" y="569" width="13" height="6" rx="2" fill="#f6f6f6"/>
<text x="306" y="594" class="lbl">Surround left</text><text x="306" y="599" class="lbl">(Blue)</text>
<!-- sofa -->
<rect x="239" y="612" width="50" height="22" rx="4" fill="#dcdcdc" stroke="#444" stroke-width="0.7"/>
<rect x="241" y="630" width="46" height="16" rx="2" fill="#e6e6e6" stroke="#444" stroke-width="0.7"/>
<rect x="234" y="619" width="9" height="27" rx="4" fill="#d0d0d0" stroke="#444" stroke-width="0.7"/>
<rect x="285" y="619" width="9" height="27" rx="4" fill="#d0d0d0" stroke="#444" stroke-width="0.7"/>
<line x1="238" y1="646" x2="238" y2="649" stroke="#444" stroke-width="1"/><line x1="290" y1="646" x2="290" y2="649" stroke="#444" stroke-width="1"/>
<text x="264" y="655" class="lbl">Listening position</text>
<!-- subwoofer -->
<text x="300" y="675" class="lbl">Subwoofer (Purple)</text>
<rect x="286" y="677" width="19" height="41" fill="#eaeaea" stroke="#555" stroke-width="0.7"/>
<rect x="289" y="680" width="13" height="36" fill="#f6f6f6" stroke="#999" stroke-width="0.4"/>
<circle cx="297" cy="704" r="3.5" fill="#777" stroke="#444" stroke-width="0.5"/>
<rect x="295.5" y="696" width="3" height="0.8" fill="#666"/>
<!-- center -->
<rect x="238" y="702" width="37" height="11" rx="2" fill="#e2e2e2" stroke="#777" stroke-width="0.6"/>
<rect x="240" y="703" width="33" height="3" fill="#f2f2f2"/>
<text x="260" y="721" class="lbl">Center (Green)</text>
<!-- fronts -->
<rect x="207" y="690" width="6" height="44" fill="#b8b8b8"/>
<rect x="207" y="734" width="6" height="22" fill="#ecc8c8"/>
<ellipse cx="211" cy="758" rx="8" ry="3" fill="#e2e2e2" stroke="#888" stroke-width="0.6"/>
<text x="231" y="739" class="lbl">Front right</text><text x="231" y="744" class="lbl">(Red)</text>
<rect x="325" y="690" width="6" height="44" fill="#b8b8b8"/>
<rect x="325" y="734" width="6" height="22" fill="#ececec"/>
<ellipse cx="328" cy="758" rx="8" ry="3" fill="#e2e2e2" stroke="#888" stroke-width="0.6"/>
<text x="309" y="739" class="lbl">Front left</text><text x="309" y="744" class="lbl">(White)</text>
<!-- wires -->
<polyline class="w" points="143,668 143,587 215,587"/>
<polyline class="w" points="156,667 156,598 259,598 259,587 298,587"/>
<polyline class="w" points="132,682 237,682 237,711 240,711"/>
<polyline class="w" points="190,686 232,686 232,724 286,724"/>
<polyline class="w" points="119,668 119,708 195,708 195,757 204,757"/>
<polyline class="w" points="115,668 115,717 187,717 187,767 307,767 307,758 321,758"/>

<!-- right side of section 3 -->
<text x="359" y="559" font-size="6.2" font-weight="bold" textLength="106" lengthAdjust="spacingAndGlyphs">Connect each speaker as shown below.</text>
<g fill="none" stroke="#666" stroke-width="0.6">
<ellipse cx="383" cy="580" rx="26" ry="7" transform="rotate(12 383 580)"/>
<ellipse cx="386" cy="582" rx="24" ry="9" transform="rotate(15 386 582)"/>
<ellipse cx="380" cy="581" rx="22" ry="6" transform="rotate(8 380 581)"/>
<ellipse cx="390" cy="584" rx="20" ry="8" transform="rotate(20 390 584)"/>
<path d="M406,578 L428,580 M408,582 L428,583"/>
<path d="M400,592 L405,596 L408,596"/>
</g>
<rect x="400" y="590" width="6" height="4" fill="#777" transform="rotate(30 403 592)"/>
<text x="430" y="580" font-size="3.5" fill="#444">Color-coded wire</text>
<text x="430" y="584" font-size="3.5" fill="#444">(Connect to speaker)</text>
<text x="408" y="595" font-size="3.5" fill="#444">Color-coded connector</text>
<text x="408" y="599" font-size="3.5" fill="#444">(Connect to rear panel)</text>
<!-- step images -->
<path d="M349,624 L372,613" stroke="#555" stroke-width="2.4"/>
<path d="M349,624 L372,613" stroke="#eee" stroke-width="1.2"/>
<g fill="none" stroke="#555" stroke-width="0.6">
<path d="M372,612 L384,608 M372,614 L386,613 M380,606 Q386,600 392,604 M382,616 Q390,620 394,614 M386,610 L398,610"/>
</g>
<rect x="368" y="637" width="22" height="14" fill="#444"/>
<rect x="370" y="640" width="7" height="7" fill="#ddd"/><rect x="381" y="640" width="7" height="7" fill="#ddd"/>
<rect x="368" y="651" width="9" height="8" fill="#555"/>
<text x="368" y="635" font-size="4" font-weight="bold" fill="#333">–</text>
<text x="382" y="633" font-size="5" font-weight="bold" fill="#333">+</text>
<path d="M383,645 Q395,650 405,660 M380,648 Q392,656 398,662" fill="none" stroke="#444" stroke-width="0.8"/>
<g fill="none" stroke="#555" stroke-width="0.6">
<path d="M368,690 Q375,678 388,676 Q398,674 400,680 M368,694 Q380,688 392,686 Q402,690 398,698"/>
<ellipse cx="378" cy="684" rx="8" ry="5" transform="rotate(-30 378 684)"/>
<ellipse cx="390" cy="690" rx="7" ry="5" transform="rotate(20 390 690)"/>
<path d="M368,722 Q375,710 388,708 Q398,706 400,712 M368,727 Q380,720 392,718 Q402,722 398,730"/>
<ellipse cx="378" cy="716" rx="8" ry="5" transform="rotate(-30 378 716)"/>
<ellipse cx="390" cy="722" rx="7" ry="5" transform="rotate(20 390 722)"/>
</g>
<rect x="388" y="674" width="8" height="5" fill="#777" transform="rotate(-25 392 676)"/>
<rect x="388" y="706" width="8" height="5" fill="#777" transform="rotate(-25 392 708)"/>
<circle cx="412" cy="612" r="5" class="sc"/><text x="412" y="614" class="sn">1</text>
<circle cx="412" cy="638" r="5" class="sc"/><text x="412" y="640" class="sn">2</text>
<circle cx="412" cy="696" r="5" class="sc"/><text x="412" y="698" class="sn">3</text>
<text x="419" y="614" class="st" font-size="4.8" textLength="75" lengthAdjust="spacingAndGlyphs">Twist and pull off the protective</text>
<text x="419" y="621" class="st" font-size="4.8" textLength="48" lengthAdjust="spacingAndGlyphs">shields on each wire.</text>
<text x="419" y="639" class="st" font-size="4.8" textLength="58" lengthAdjust="spacingAndGlyphs">Connect the wires to the</text>
<text x="419" y="646" class="st" font-size="4.8" textLength="64" lengthAdjust="spacingAndGlyphs">speaker. Match the colored</text>
<text x="419" y="652.5" class="st" font-size="4.8" textLength="60" lengthAdjust="spacingAndGlyphs">wire with the color-coded</text>
<text x="419" y="659.5" class="st" font-size="4.8" textLength="65" lengthAdjust="spacingAndGlyphs">label (above the tabs), then</text>
<text x="419" y="666" class="st" font-size="4.8" textLength="64" lengthAdjust="spacingAndGlyphs">insert the colored wire into</text>
<text x="419" y="672.5" class="st" font-size="4.8" textLength="68" lengthAdjust="spacingAndGlyphs">the red (+) tab and the other</text>
<text x="419" y="679" class="st" font-size="4.8" textLength="63" lengthAdjust="spacingAndGlyphs">wire with the black (–) tab.</text>
<text x="419" y="697" class="st" font-size="4.8" textLength="69" lengthAdjust="spacingAndGlyphs">Connect the other end to the</text>
<text x="419" y="703.5" class="st" font-size="4.8" textLength="69" lengthAdjust="spacingAndGlyphs">color-coded speaker jacks on</text>
<text x="419" y="710" class="st" font-size="4.8" textLength="51" lengthAdjust="spacingAndGlyphs">the rear of the DVD/CD</text>
<text x="419" y="717" class="st" font-size="4.8" textLength="62" lengthAdjust="spacingAndGlyphs">receiver (as shown at left).</text>
<text x="419" y="724" class="st" font-size="4.8" textLength="74" lengthAdjust="spacingAndGlyphs">Make sure to insert completely.</text>
<circle cx="373" cy="745" r="4.5" fill="#111"/>
<path d="M371.5,748 L371.5,744 Q371.5,742.5 372.5,742.5 L373.5,742.5 Q374.5,742.5 374.5,744 L374.5,748 Q374.5,749 373,749 Q371.5,749 371.5,748 Z" fill="#fff"/>
<text x="382" y="747" font-size="5" font-weight="bold" fill="#222" textLength="18" lengthAdjust="spacingAndGlyphs">Caution</text>
<text x="368" y="757" font-size="3.7" fill="#444" textLength="128" lengthAdjust="spacingAndGlyphs">These speaker terminals can be hazardous when live. When you connect or</text>
<text x="368" y="762.5" font-size="3.7" fill="#444" textLength="127" lengthAdjust="spacingAndGlyphs">disconnect the speaker cables, to prevent the risk of electric shock, do not</text>
<text x="368" y="768" font-size="3.7" fill="#444" textLength="106" lengthAdjust="spacingAndGlyphs">touch uninsulated parts before disconnecting the power cord.</text>

<!-- ============ SECTION 4 ============ -->
<rect x="521" y="572" width="201" height="200" rx="3" class="box"/>
<circle cx="530" cy="582" r="7.5" class="big"/>
<text x="530" y="586.5" class="num">4</text>
<text x="544" y="581" font-size="6.3" font-weight="bold" textLength="164" lengthAdjust="spacingAndGlyphs">Connect the DVD/CD receiver to your TV, then connect the</text>
<text x="544" y="589" font-size="6.3" font-weight="bold" textLength="57" lengthAdjust="spacingAndGlyphs">supplied power cord.</text>
<circle cx="541" cy="600" r="4.5" class="sc"/><text x="541" y="602" class="sn">1</text>
<circle cx="541" cy="615" r="4.5" class="sc"/><text x="541" y="617" class="sn">2</text>
<circle cx="541" cy="642" r="4.5" class="sc"/><text x="541" y="644" class="sn">3</text>
<text x="551" y="600" class="st" textLength="105" lengthAdjust="spacingAndGlyphs">Connect one end to a video input on your TV.</text>
<text x="551" y="605" class="s" textLength="56" lengthAdjust="spacingAndGlyphs">Use the supplied video cord.</text>
<text x="551" y="617" class="st" textLength="157" lengthAdjust="spacingAndGlyphs">Connect the other end to the video output of the DVD/CD receiver.</text>
<text x="551" y="622" class="s" textLength="153" lengthAdjust="spacingAndGlyphs">This player is equipped with copy protection technology. Do not connect this</text>
<text x="551" y="628" class="s" textLength="163" lengthAdjust="spacingAndGlyphs">player to your TV via a VCR using AV cables, as the picture from this player will not</text>
<text x="551" y="633" class="s" textLength="56" lengthAdjust="spacingAndGlyphs">appear properly on your TV.</text>
<text x="551" y="645" class="st" textLength="93" lengthAdjust="spacingAndGlyphs">Connect the power cord to the AC inlet.</text>
<!-- TV -->
<rect x="564" y="652" width="40" height="36" fill="#eee" stroke="#333" stroke-width="0.9"/>
<rect x="567" y="655" width="33" height="25" fill="#9a9a9a" stroke="#555" stroke-width="0.5"/>
<rect x="569" y="683" width="6" height="2" fill="#333"/>
<rect x="611" y="666" width="20" height="11" rx="2" fill="#fff" stroke="#666" stroke-width="0.6"/>
<circle cx="622" cy="671.5" r="3" fill="#fff" stroke="#333" stroke-width="0.7"/><circle cx="622" cy="671.5" r="1" fill="#333"/>
<text x="612" y="670" font-size="1.8" fill="#555">VIDEO</text>
<rect x="638" y="668" width="12" height="5" rx="1" fill="#888" stroke="#444" stroke-width="0.4"/>
<line x1="631" y1="670.5" x2="638" y2="670.5" stroke="#444" stroke-width="0.5"/>
<path d="M650,670.5 L683,670.5 Q688,670.5 688,676 L688,703 Q688,708.5 683,708.5 L655,708.5" fill="none" stroke="#333" stroke-width="1.4"/>
<rect x="643" y="706" width="12" height="5" rx="1" fill="#888" stroke="#444" stroke-width="0.4"/>
<!-- receiver -->
<rect x="550" y="703" width="93" height="12" fill="#f4f4f4" stroke="#333" stroke-width="0.7"/>
<rect x="552" y="704.5" width="17" height="9" fill="#333"/>
<g fill="#fff"><rect x="553.5" y="706" width="3" height="2.5"/><rect x="558" y="706" width="3" height="2.5"/><rect x="562.5" y="706" width="3" height="2.5"/><rect x="553.5" y="710" width="3" height="2.5"/><rect x="558" y="710" width="3" height="2.5"/><rect x="562.5" y="710" width="3" height="2.5"/></g>
<rect x="572" y="705" width="6" height="8" fill="none" stroke="#333" stroke-width="0.6"/>
<line x1="575" y1="705" x2="575" y2="713" stroke="#333" stroke-width="0.6"/>
<rect x="594" y="708" width="3" height="3" fill="#333"/>
<rect x="606" y="704" width="4" height="3" fill="#333"/><rect x="613" y="705" width="4" height="3" fill="#333"/>
<path d="M604,711 L623,711" stroke="#666" stroke-width="0.5"/>
<rect x="623" y="699" width="20" height="24" rx="4" fill="#fff" stroke="#333" stroke-width="0.7"/>
<circle cx="633" cy="707" r="3.5" fill="#fff" stroke="#333" stroke-width="0.7"/><circle cx="633" cy="707" r="1.2" fill="#333"/>
<text x="627" y="717" font-size="3" font-weight="bold" fill="#333">DP</text>
<line x1="597" y1="715" x2="590" y2="722" stroke="#666" stroke-width="0.5"/>
<rect x="582" y="722" width="28" height="23" rx="2" fill="#fff" stroke="#555" stroke-width="0.6"/>
<rect x="585" y="727" width="20" height="9" rx="3" fill="#222"/>
<circle cx="590" cy="731.5" r="2" fill="#fff"/><circle cx="599" cy="731.5" r="2" fill="#fff"/>
<text x="591" y="742" font-size="2" fill="#555">AC IN</text>
<path d="M600,731 Q606,738 612,744 L626,750" fill="none" stroke="#555" stroke-width="1.6"/>
<path d="M600,731 Q606,738 612,744 L626,750" fill="none" stroke="#ccc" stroke-width="0.6"/>
<path d="M627,747 L632,747 L632,745 L636,750 L632,755 L632,753 L627,753 Z" fill="#fff" stroke="#444" stroke-width="0.6"/>
<text x="638" y="752" font-size="5" font-weight="bold" fill="#222" textLength="30" lengthAdjust="spacingAndGlyphs">To AC outlet</text>
<text x="543" y="762.5" font-size="4.2" fill="#444" textLength="65" lengthAdjust="spacingAndGlyphs">Congratulations! You're done setting up.</text>
<text x="596" y="782" font-size="4.4" fill="#999" textLength="40" lengthAdjust="spacingAndGlyphs">Printed in &lt;XRE2080-A&gt;</text>

<!-- footer slug -->
<text x="0" y="812" font-size="4.3" fill="#555">dBvDVH21.02</text>
<text x="55" y="812" font-size="4.3" fill="#555">1</text>
<text x="409" y="812" font-size="4.3" fill="#555">04.3.10, 2:11 PM</text>
<g stroke="#444" stroke-width="0.6" fill="none">
<circle cx="361" cy="817" r="3.5"/><line x1="354" y1="817" x2="368" y2="817"/><line x1="361" y1="810" x2="361" y2="824"/>
</g>
<line x1="766" y1="793" x2="777" y2="793" stroke="#aaa" stroke-width="0.8"/>
<g stroke="#555" stroke-width="0.7" fill="none">
<line x1="759" y1="800" x2="759" y2="813"/>
<polyline points="777,800 766,800 766,815"/>
</g>

<!-- download footer -->
<text x="4" y="1025" font-family="Liberation Serif, serif" font-size="10.5" fill="#555" style="font-family:'Liberation Serif',serif">Downloaded from <tspan fill="#0000ee" text-decoration="underline">www.Manualslib.com</tspan>  manuals search engine</text>
<line x1="84" y1="1027" x2="178" y2="1027" stroke="#aab" stroke-width="0.8"/>
</svg>
</body></html>
